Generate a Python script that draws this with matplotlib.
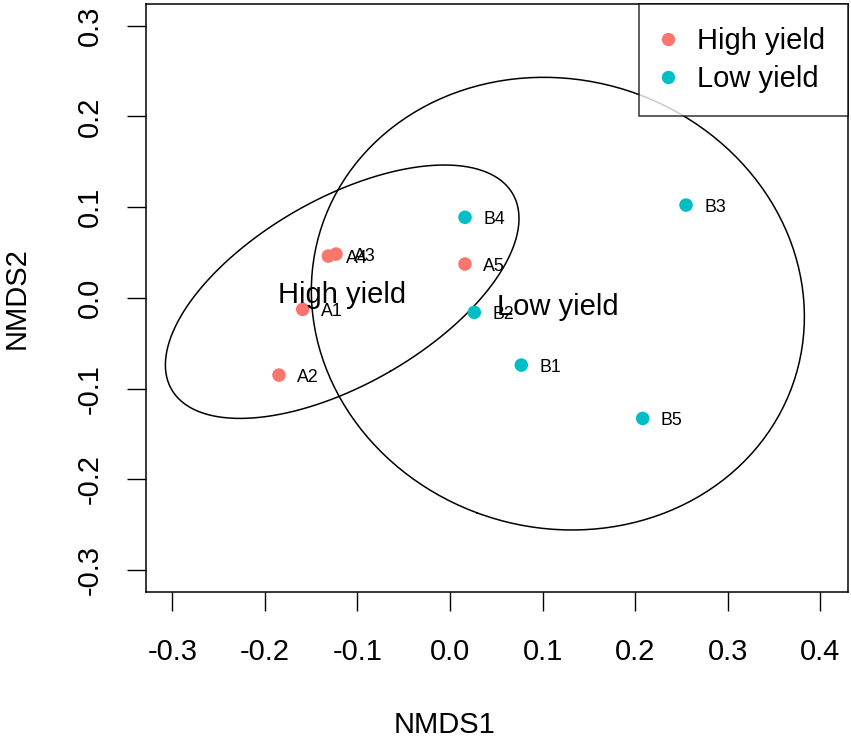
import numpy as np
import matplotlib
matplotlib.use("Agg")
import matplotlib.pyplot as plt
from matplotlib.lines import Line2D

plt.rcParams['font.family'] = ['Liberation Sans', 'DejaVu Sans']

# NMDS site scores
high_names = ['A1', 'A2', 'A3', 'A4', 'A5']
high_x = [-0.1592, -0.1848, -0.1232, -0.1315, 0.0161]
high_y = [-0.0127, -0.0851, 0.0483, 0.0461, 0.0373]

low_names = ['B1', 'B2', 'B3', 'B4', 'B5']
low_x = [0.0769, 0.0261, 0.2548, 0.0161, 0.2080]
low_y = [-0.0741, -0.0160, 0.1023, 0.0888, -0.1329]

groups = ['High yield', 'Low yield']
group_colors = ['#F8766D', '#00BFC4']

xticks = [-0.3, -0.2, -0.1, 0.0, 0.1, 0.2, 0.3, 0.4]
xtick_labels = ['-0.3', '-0.2', '-0.1', '0.0', '0.1', '0.2', '0.3', '0.4']
yticks = [-0.3, -0.2, -0.1, 0.0, 0.1, 0.2, 0.3]
ytick_labels = ['-0.3', '-0.2', '-0.1', '0.0', '0.1', '0.2', '0.3']


def sd_ellipse(x, y, conf=0.95, n=300):
    # ordiellipse(kind="sd", conf=0.95) style ellipse
    x = np.asarray(x)
    y = np.asarray(y)
    cx, cy = x.mean(), y.mean()
    cov = np.cov(x, y)
    vals, vecs = np.linalg.eigh(cov)
    scale = np.sqrt(-2 * np.log(1 - conf))
    t = np.linspace(0, 2 * np.pi, n)
    circ = np.vstack([np.cos(t), np.sin(t)])
    pts = vecs @ np.diag(np.sqrt(vals)) @ circ * scale
    return cx, cy, pts[0] + cx, pts[1] + cy


fig = plt.figure(figsize=(8.51, 7.38), dpi=100)
ax = fig.add_axes([0.17156, 0.19824, 0.82491, 0.79593])

data = [(high_names, high_x, high_y), (low_names, low_x, low_y)]
for (names, xs, ys), col, grp in zip(data, group_colors, groups):
    ax.scatter(xs, ys, s=95, color=col, edgecolors='none', zorder=3)
    for nm, xv, yv in zip(names, xs, ys):
        ax.annotate(nm, (xv, yv), xytext=(13, 0), textcoords='offset points',
                    fontsize=12.8, ha='left', va='center_baseline', zorder=4)
    cx, cy, ex, ey = sd_ellipse(xs, ys)
    ax.plot(ex, ey, color='black', lw=1.1, zorder=2)
    ax.text(cx, cy, grp, fontsize=21, ha='center', va='center_baseline', zorder=5)

ax.set_xlim(-0.3284, 0.4297)
ax.set_ylim(-0.3239, 0.3236)

ax.set_xticks(xticks, xtick_labels)
ax.set_yticks(yticks, ytick_labels, rotation=90, va='center')
ax.tick_params(axis='both', labelsize=21, length=13.7, width=1.0)
ax.tick_params(axis='x', pad=19.3)
ax.tick_params(axis='y', pad=16.5)

for sp in ax.spines.values():
    sp.set_linewidth(1.1)

ax.set_xlabel('NMDS1', fontsize=21)
ax.xaxis.label.set_va('baseline')
ax.xaxis.set_label_coords(0.4257, -0.2405)
ax.set_ylabel('NMDS2', fontsize=21)
ax.yaxis.label.set_va('baseline')
ax.yaxis.set_label_coords(-0.1724, 0.5)

handles = [Line2D([], [], marker='o', linestyle='none', markersize=9.6,
                  markerfacecolor=c, markeredgecolor='none') for c in group_colors]
leg = ax.legend(handles, groups, loc='upper right', fontsize=21, frameon=True,
                fancybox=False, borderaxespad=0, borderpad=0.78, labelspacing=0.34,
                handlelength=0.4, handletextpad=0.8)
leg.get_frame().set_edgecolor('black')
leg.get_frame().set_linewidth(1.1)
leg.set_zorder(6)

fig.savefig('out.png', dpi=100)
